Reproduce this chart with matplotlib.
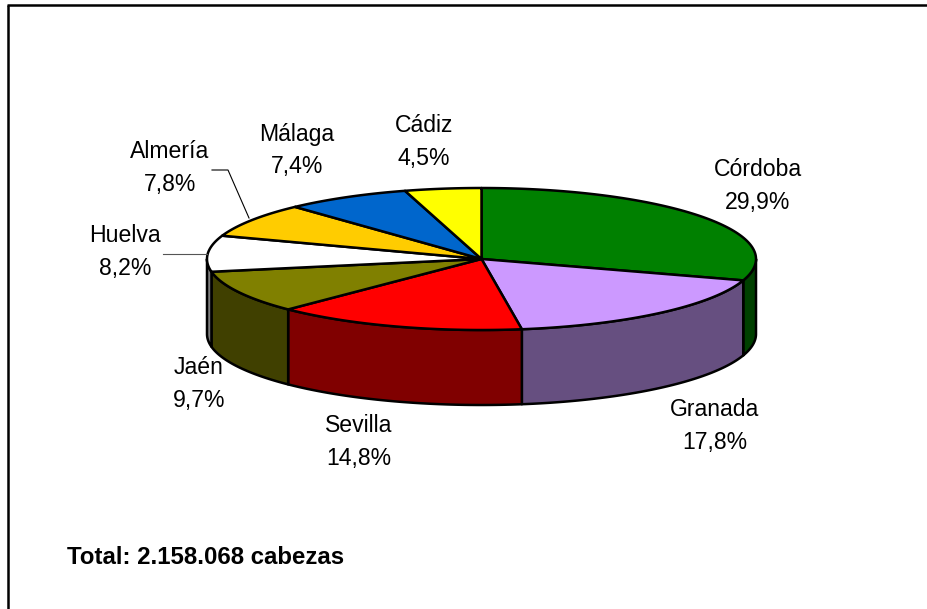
import numpy as np
import matplotlib
matplotlib.use("Agg")
import matplotlib.pyplot as plt
from matplotlib.patches import Polygon

# ---- data ----
provinces = ["Córdoba", "Granada", "Sevilla", "Jaén", "Huelva", "Almería", "Málaga", "Cádiz"]
shares = [29.9, 17.8, 14.8, 9.7, 8.2, 7.8, 7.4, 4.5]
pct_labels = ["29,9%", "17,8%", "14,8%", "9,7%", "8,2%", "7,8%", "7,4%", "4,5%"]
top_colors = ["#008000", "#CC99FF", "#FF0000", "#808000", "#FFFFFF", "#FFCC00", "#0066CC", "#FFFF00"]
side_colors = ["#004000", "#664F80", "#800000", "#404000", "#808080", "#806600", "#003366", "#808000"]
total_text = "Total: 2.158.068 cabezas"

# ---- layout (pixels) ----
W, H = 928, 609
cx, cy, a, b, depth = 481.5, 259, 274.5, 71, 75
label_pos = [(758, 170), (715, 410), (359, 425), (199, 368),
             (125, 235), (170, 151), (297, 134), (424, 125)]
line_gap = 33

plt.rcParams['font.family'] = ['Liberation Sans', 'DejaVu Sans']
fig = plt.figure(figsize=(W / 100, H / 100), dpi=100)
ax = fig.add_axes([0, 0, 1, 1])
ax.set_xlim(0, W)
ax.set_ylim(H, 0)
ax.axis('off')

def pt(t):
    r = np.radians(t)
    return cx + a * np.cos(r), cy - b * np.sin(r)

total = sum(shares)
angles = [90.0]
for s in shares:
    angles.append(angles[-1] - 360.0 * s / total)

# sides (front half visible: t in [-180, 0])
for i in range(len(shares)):
    t0, t1 = angles[i + 1], angles[i]  # t0 < t1
    lo, hi = max(t0, -180.0), min(t1, 0.0)
    if hi <= lo:
        continue
    ts = np.linspace(lo, hi, 80)
    xs, ys = pt(ts)
    poly = np.concatenate([np.column_stack([xs, ys]),
                           np.column_stack([xs[::-1], ys[::-1] + depth])])
    ax.add_patch(Polygon(poly, closed=True, facecolor=side_colors[i],
                         edgecolor='black', linewidth=1.8, joinstyle='round'))

# top wedges
for i in range(len(shares)):
    t0, t1 = angles[i + 1], angles[i]
    ts = np.linspace(t1, t0, 120)
    xs, ys = pt(ts)
    poly = np.vstack([[cx, cy], np.column_stack([xs, ys])])
    ax.add_patch(Polygon(poly, closed=True, facecolor=top_colors[i],
                         edgecolor='black', linewidth=1.8, joinstyle='round'))

# labels
fs = 16.6
for (x, y), name, pct in zip(label_pos, provinces, pct_labels):
    ax.text(x, y, name, ha='center', va='center', fontsize=fs, color='black')
    ax.text(x, y + line_gap, pct, ha='center', va='center', fontsize=fs, color='black')

# leader lines
ax.plot([212, 228, 249], [170, 170, 218], color='black', linewidth=0.8)
ax.plot([163, 207], [254, 254], color='#555555', linewidth=0.8)

ax.text(67, 558, total_text, ha='left', va='center', fontsize=17.3, fontweight='bold')

# frame (left and top)
ax.plot([8, 8], [H, 4.5], color='black', linewidth=1.8, solid_capstyle='butt')
ax.plot([7.1, W], [4.5, 4.5], color='black', linewidth=1.8, solid_capstyle='butt')

fig.savefig("out.png", dpi=100)
